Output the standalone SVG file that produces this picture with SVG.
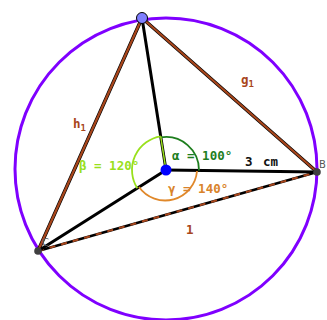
<svg xmlns="http://www.w3.org/2000/svg" width="327" height="320" viewBox="0 0 327 320">
<style>
.lbl{font-family:"DejaVu Sans Mono","Liberation Mono",monospace;font-weight:bold;font-size:12.5px}
.side{stroke:#000;stroke-width:3.6;fill:none;stroke-linecap:round}
.sideb{stroke:#a8461c;stroke-width:2.3;fill:none}
.rad{stroke:#000;stroke-width:3;fill:none;stroke-linecap:round}
.arc{fill:none;stroke-width:1.8}
</style>
<rect width="327" height="320" fill="#fff"/>
<g id="circle"><circle cx="166" cy="169" r="151" fill="none" stroke="#7f00ff" stroke-width="3"/></g>
<g id="connectors">
<line class="side" x1="142" y1="18" x2="317" y2="172"/>
<line class="sideb" x1="142" y1="18" x2="317" y2="172"/>
<line class="side" x1="142" y1="18" x2="38" y2="251"/>
<line class="sideb" x1="142" y1="18" x2="38" y2="251"/>
<line x1="38" y1="251" x2="317" y2="172" stroke="#000" stroke-width="2.6"/>
<line x1="38" y1="251" x2="317" y2="172" stroke="#a8461c" stroke-width="2" stroke-dasharray="6,6"/>
<line class="rad" x1="166" y1="170" x2="142" y2="18"/>
<line class="rad" x1="166" y1="170" x2="317" y2="172"/>
<line class="rad" x1="166" y1="170" x2="38" y2="251"/>
</g>
<g id="angle-alpha">
<path class="arc" stroke="#1e7e1e" d="M199,170.4 A33,33 0 0 0 160.9,137.4"/>
<text class="lbl" x="172" y="160" fill="#1e7e1e">α = 100°</text>
</g>
<g id="angle-beta">
<path class="arc" stroke="#99e01c" d="M160.7,136.4 A34,34 0 0 0 137.3,188.2"/>
<line x1="160.7" y1="136.4" x2="166" y2="170" stroke="#99e01c" stroke-width="1.5"/>
<text class="lbl" x="79" y="170" fill="#99e01c">β = 120°</text>
</g>
<g id="angle-gamma">
<path class="arc" stroke="#e0882a" d="M139,187 A32,32 0 0 0 197,171"/>
<text class="lbl" x="168" y="193" fill="#d9832a">γ = 140°</text>
</g>
<g id="label-3cm"><text class="lbl" x="245" y="166" fill="#111" font-size="13.5">3<tspan x="263">cm</tspan></text></g>
<g id="label-g1"><text class="lbl" x="241" y="84" fill="#a8461c">g<tspan font-size="9" dy="3">1</tspan></text></g>
<g id="label-h1"><text class="lbl" x="73" y="128" fill="#a8461c">h<tspan font-size="9" dy="3">1</tspan></text></g>
<g id="label-1"><text class="lbl" x="186" y="234" fill="#a8461c">1</text></g>
<g id="point-A"><circle cx="142" cy="18" r="5.5" fill="#7f7fff" stroke="#000" stroke-width="1"/></g>
<g id="point-O"><circle cx="166" cy="170" r="5.5" fill="#0000ff"/></g>
<g id="point-B"><circle cx="317" cy="172" r="3.8" fill="#404040"/><text x="319" y="168" font-family="DejaVu Sans, sans-serif" font-size="10" fill="#555">B</text></g>
<g id="point-C"><circle cx="38" cy="251" r="3.8" fill="#404040"/><text x="42" y="246" font-family="DejaVu Sans, sans-serif" font-size="10" fill="#555">C</text></g>
</svg>
